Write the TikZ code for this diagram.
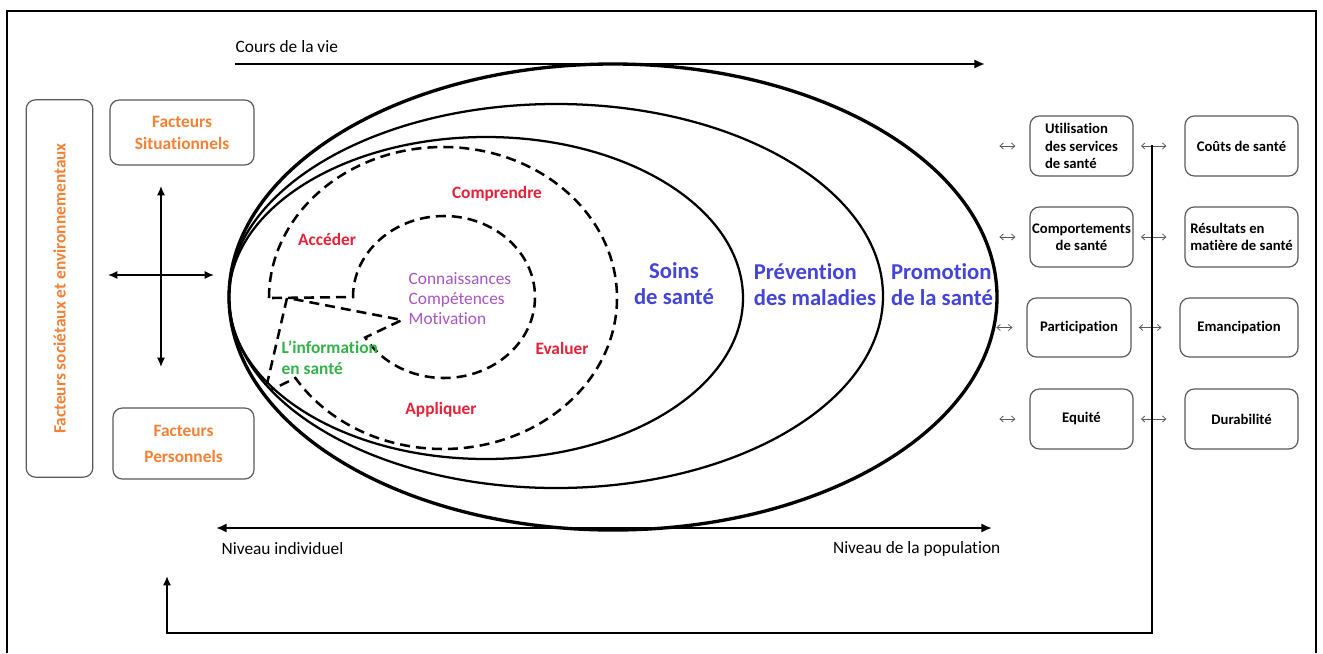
\documentclass[tikz,border=0pt]{standalone}
\usepackage{fontspec}
\setmainfont{Carlito}[Ligatures=NoCommon]
\usetikzlibrary{arrows.meta}
\definecolor{orangef}{RGB}{244,128,52}
\definecolor{redf}{RGB}{232,32,56}
\definecolor{greenf}{RGB}{52,178,74}
\definecolor{purplef}{RGB}{168,84,196}
\definecolor{bluef}{RGB}{68,68,216}
\definecolor{boxline}{RGB}{90,90,90}
\begin{document}
\begin{tikzpicture}[
       x=0.75pt, y=-0.75pt,
       box/.style={draw=boxline, line width=0.9pt, rounded corners=7pt,
         inner sep=1pt, align=center,
         font=\fontsize{11}{13}\selectfont\bfseries},
       factbox/.style={box, text=orangef,
         font=\fontsize{13}{16.5}\selectfont\bfseries},
       skill/.style={text=redf, font=\fontsize{13}{15}\selectfont\bfseries},
       sector/.style={text=bluef, align=center,
         font=\fontsize{17}{19.5}\selectfont\bfseries},
       plain/.style={font=\fontsize{13}{15}\selectfont},
       dashline/.style={line width=1.9pt, dash pattern=on 7.5pt off 4.5pt},
       bigarr/.style={line width=1.8pt, -{Latex[length=8pt,width=7pt]}},
       bothbig/.style={line width=1.8pt,
         {Latex[length=8pt,width=7pt]}-{Latex[length=8pt,width=7pt]}},
       crossarr/.style={line width=1.1pt,
         {Latex[length=7pt,width=6pt]}-{Latex[length=7pt,width=6pt]}},
       smallarr/.style={draw=boxline, line width=0.6pt,
         {Straight Barb[length=2.5pt,width=4.5pt]}-{Straight Barb[length=2.5pt,width=4.5pt]}},
       ]
      \useasboundingbox (0,0) rectangle (1323,653);
      \fill[white] (0,0) rectangle (1323,653);

      % frame
      \draw[line width=1.5pt] (7,653) -- (7,11) -- (1316,11) -- (1316,653);

      % nested ellipses
      \draw[line width=2.5pt] (613,297) ellipse [x radius=384, y radius=233];
      \draw[line width=1.7pt] (556,296) ellipse [x radius=327, y radius=192];
      \draw[line width=1.7pt] (486,298) ellipse [x radius=257, y radius=161];

      % dashed sectors
      \draw[dashline] (269,298) arc[start angle=180, end angle=508,
        x radius=174, y radius=151] -- (271,390);
      \draw[dashline] (272,298) -- (353,297) arc[start angle=180,
        end angle=510, x radius=91, y radius=81] -- (402,320) -- (288,298);
      \draw[dashline] (287,298) -- (267,384);

      \node[skill] (comprendre) at (497,194) {Comprendre};
      \node[skill] (acceder) at (327,239) {Accéder};
      \node[skill] (evaluer) at (562,348) {Evaluer};
      \node[skill] (appliquer) at (441,410) {Appliquer};
      \node[plain, text=purplef, align=left, anchor=west,
        font=\fontsize{13}{15}\selectfont] (noyau) at (404,299)
        {Connaissances\\Compétences\\Motivation};
      \node[skill, text=greenf, align=left, anchor=west,
        font=\fontsize{13}{15.75}\selectfont\bfseries] (info) at (277,358)
        {L'information\\en santé};

      \node[sector] (soins) at (674,284) {Soins\\de santé};
      \node[sector, align=left] (prev) at (815,285) {Prévention\\des maladies};
      \node[sector, align=left] (promo) at (942,285) {Promotion\\de la santé};

      % life course and levels
      \coordinate (vieL) at (235,64);
      \coordinate (vieR) at (985,64);
      \draw[bigarr] (vieL) -- (vieR);
      \node[plain, anchor=west] (vie) at (231,47) {Cours de la vie};
      \coordinate (nivL) at (216,528);
      \coordinate (nivR) at (992,528);
      \draw[bothbig] (nivL) -- (nivR);
      \node[plain, anchor=west] (indiv) at (217,549) {Niveau individuel};
      \node[plain, anchor=east] (popu) at (1005,549) {Niveau de la population};

      % left factors
      \node[factbox, minimum width=50pt, minimum height=283pt]
        (soc) at (59.5,288.5) {};
      \node[text=orangef, rotate=90, font=\fontsize{13}{15}\selectfont\bfseries]
        at (soc.center) {Facteurs sociétaux et environnementaux};
      \node[factbox, minimum width=108pt, minimum height=48.75pt]
        (situ) at (182,132.5) {Facteurs\\Situationnels};
      \node[factbox, minimum width=105.75pt, minimum height=53.25pt,
        font=\fontsize{13}{19.5}\selectfont\bfseries]
        (pers) at (183.5,443.5) {Facteurs\\Personnels};
      \coordinate (crossN) at (161,186);
      \coordinate (crossS) at (161,367);
      \coordinate (crossW) at (108,275);
      \coordinate (crossE) at (214,275);
      \draw[crossarr] (crossN) -- (crossS);
      \draw[crossarr] (crossW) -- (crossE);

      % outcomes
      \node[box, align=left, minimum width=77.25pt, minimum height=45pt]
        (util) at (1081.5,146) {Utilisation\\des services\\de santé};
      \node[box, minimum width=77.25pt, minimum height=45pt]
        (compo) at (1081.5,237) {Comportements\\de santé};
      \node[box, minimum width=78pt, minimum height=44.25pt]
        (parti) at (1079,327.5) {Participation};
      \node[box, minimum width=77.25pt, minimum height=45pt]
        (equi) at (1081.5,419) {Equité};
      \node[box, minimum width=84.75pt, minimum height=45pt]
        (couts) at (1241.5,146) {Coûts de santé};
      \node[box, align=left, minimum width=84.75pt, minimum height=45pt]
        (resul) at (1241.5,237) {Résultats en\\matière de santé};
      \node[box, minimum width=88.5pt, minimum height=44.25pt]
        (eman) at (1239,327.5) {Emancipation};
      \node[box, minimum width=84.75pt, minimum height=45pt]
        (dura) at (1241.5,419) {Durabilité};

      \foreach \n in {util, compo, parti, equi} {
        \draw[smallarr] (\n.west) ++(-30,0) -- ++(16,0);
      }
      \foreach \a/\b in {util/couts, compo/resul, parti/eman, equi/dura} {
        \draw[smallarr, shorten <=5.5pt, shorten >=13.5pt] (\a.east) -- (\b.west);
      }

      % feedback loop
      \coordinate (fbtop) at (1152,145);
      \coordinate (fbend) at (167,576);
      \draw[line width=1.2pt, -{Latex[length=7pt,width=6pt]}]
        (fbtop) -- (1152,633) -- (167,633) -- (fbend);
     \end{tikzpicture}
\end{document}
